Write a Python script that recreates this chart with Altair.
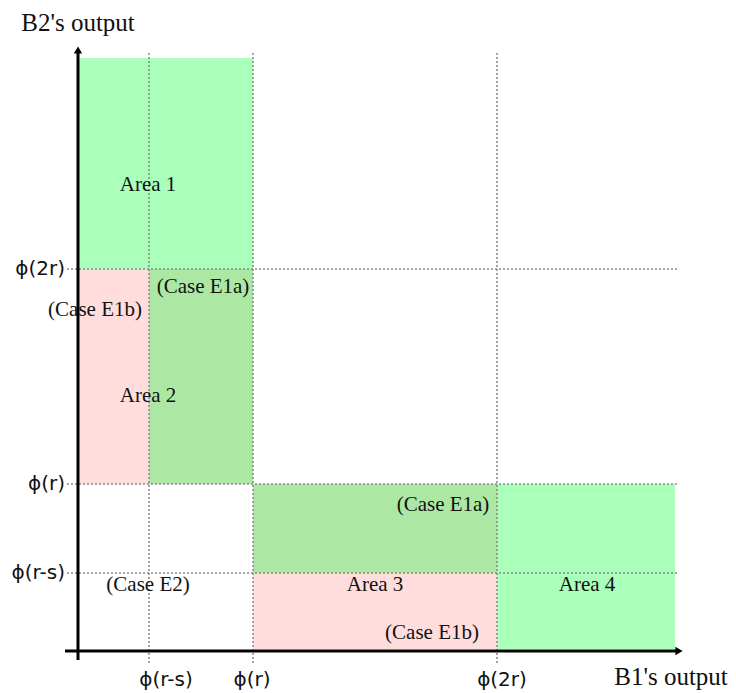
import altair as alt
import pandas as pd

# ---- data (units: chart coordinates, origin at axes crossing) ----
rect_x = [0, 0, 71, 175, 175, 419]
rect_x2 = [175, 71, 175, 419, 419, 597]
rect_y = [382, 167, 167, 78, 2, 2]
rect_y2 = [593, 382, 382, 167, 78, 167]
rect_kind = ["green", "pink", "dark", "dark", "pink", "green"]

guide_x = [71, 175, 419]          # phi(r-s), phi(r), phi(2r) on B1 axis
guide_y = [78, 167, 382]          # phi(r-s), phi(r), phi(2r) on B2 axis

xtick_labels = ["ϕ(r-s)", "ϕ(r)", "ϕ(2r)"]
xtick_pos = [88, 174, 424]
ytick_labels = ["ϕ(r-s)", "ϕ(r)", "ϕ(2r)"]

area_labels = ["Area 1", "(Case E1a)", "(Case E1b)", "Area 2", "(Case E1a)",
               "(Case E2)", "Area 3", "(Case E1b)", "Area 4"]
area_x = [70, 125, 17, 70, 365, 70, 297, 354, 509]
area_y = [466, 364, 341, 255, 146, 66, 66, 18, 66]

x_title = "B1's output"
y_title = "B2's output"

# ---- frames ----
rects = pd.DataFrame({"x": rect_x, "x2": rect_x2, "y": rect_y, "y2": rect_y2, "kind": rect_kind})
vlines = pd.DataFrame({"x": guide_x, "y": [-12] * 3, "y2": [598] * 3})
hlines = pd.DataFrame({"y": guide_y, "x": [-11] * 3, "x2": [601] * 3})
xticks = pd.DataFrame({"x": xtick_pos, "y": [-29] * 3, "t": xtick_labels})
yticks = pd.DataFrame({"x": [-13] * 3, "y": guide_y, "t": ytick_labels})
areas = pd.DataFrame({"x": area_x, "y": area_y, "t": area_labels})
axes_df = pd.DataFrame({"x": [0, -13], "x2": [0, 598], "y": [-9, 0], "y2": [600, 0]})
arrows = pd.DataFrame({"x": [0, 601], "y": [601, 0], "s": ["triangle-up", "triangle-right"]})
titles = pd.DataFrame({"x": [0, 593], "y": [628, -26], "t": [y_title, x_title]})

xs = alt.Scale(domain=[-70, 642], nice=False, zero=False)
ys = alt.Scale(domain=[-34, 643], nice=False, zero=False)
X = lambda f="x": alt.X(f"{f}:Q", scale=xs, axis=None)
Y = lambda f="y": alt.Y(f"{f}:Q", scale=ys, axis=None)

rect_layer = alt.Chart(rects).mark_rect(stroke=None).encode(
    x=X(), x2="x2", y=Y(), y2="y2",
    color=alt.Color("kind:N", legend=None,
                    scale=alt.Scale(domain=["green", "pink", "dark"],
                                    range=["#aaffbb", "#ffdddd", "#ace8a4"])),
)

dash = dict(color="#888888", strokeWidth=1.5, strokeDash=[2, 2])
vline_layer = alt.Chart(vlines).mark_rule(**dash).encode(x=X(), y=Y(), y2="y2")
hline_layer = alt.Chart(hlines).mark_rule(**dash).encode(y=Y(), x=X(), x2="x2")

axis_layer = alt.Chart(axes_df).mark_rule(color="black", strokeWidth=3).encode(
    x=X(), x2="x2", y=Y(), y2="y2")
arrow_layer = alt.Chart(arrows).mark_point(filled=True, color="black", opacity=1, size=70).encode(
    x=X(), y=Y(), shape=alt.Shape("s:N", scale=None))

sans = dict(font="DejaVu Sans", fontSize=20, color="#111111")
xtick_layer = alt.Chart(xticks).mark_text(align="center", baseline="middle", **sans).encode(
    x=X(), y=Y(), text="t:N")
ytick_layer = alt.Chart(yticks).mark_text(align="right", baseline="middle", **sans).encode(
    x=X(), y=Y(), text="t:N")

serif = dict(font="Liberation Serif", color="#111111")
area_layer = alt.Chart(areas).mark_text(align="center", baseline="middle", fontSize=21, **serif).encode(
    x=X(), y=Y(), text="t:N")
title_layer = alt.Chart(titles).mark_text(align="center", baseline="middle", fontSize=25, **serif).encode(
    x=X(), y=Y(), text="t:N")

chart = alt.layer(
    rect_layer, vline_layer, hline_layer, axis_layer, arrow_layer,
    xtick_layer, ytick_layer, area_layer, title_layer,
).properties(
    width=712, height=677,
    padding={"left": 0, "top": 0, "right": 8, "bottom": 8},
    autosize=alt.AutoSizeParams(type="none"),
).configure_view(stroke=None)

chart.save("out.html", embed_options={"renderer": "svg", "actions": False})
